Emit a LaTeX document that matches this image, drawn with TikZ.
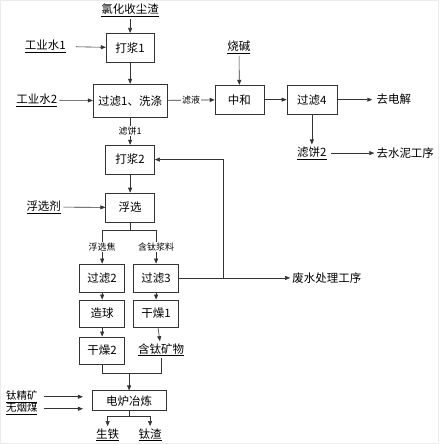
\documentclass[tikz,border=0pt]{standalone}
\usepackage{fontspec}
\setmainfont{Noto Sans CJK SC}
\usetikzlibrary{arrows.meta}
% underline close under the text
\newcommand\ulabel[1]{\underline{\raisebox{0pt}[\height][1pt]{#1}}}
\begin{document}
\begin{tikzpicture}[
    x=1pt, y=-1pt,
    every path/.style={draw=black!80, line width=0.6pt},
    box/.style={rectangle, draw, minimum width=49pt, minimum height=29pt, inner sep=0pt, align=center, font=\fontsize{11.5}{12}\selectfont},
    widebox/.style={box, minimum width=74pt},
    lbl/.style={inner sep=2pt, font=\fontsize{11.5}{12}\selectfont},
    tag/.style={inner sep=1pt, fill=white, font=\fontsize{9}{10}\selectfont},
    arrow/.style={-{Triangle[length=5pt,width=4pt]}}
]
\path[use as bounding box, draw=black!8] (0,0) rectangle (439,444);

% Boxes
\node[box, minimum width=48pt] (jiang1) at (130,47.5) {打浆1};
\node[widebox, minimum height=33pt] (filt1) at (130,100.5) {过滤1、洗涤};
\node[box] (zhonghe) at (239.5,99.5) {中和};
\node[box, minimum width=50pt] (filt4) at (312,99.5) {过滤4};
\node[box] (jiang2) at (130,159.5) {打浆2};
\node[box] (flot) at (130,207.5) {浮选};
\node[box, minimum width=45pt, minimum height=28pt] (filt2) at (102,278) {过滤2};
\node[box, minimum width=45pt, minimum height=28pt] (filt3) at (156,278) {过滤3};
\node[box, minimum width=45pt, minimum height=27pt] (ball) at (102,313.5) {造球};
\node[box, minimum width=45pt, minimum height=27pt] (dry1) at (156,313.5) {干燥1};
\node[box, minimum width=45pt, minimum height=27pt] (dry2) at (102,350.5) {干燥2};
\node[widebox, minimum height=20pt] (furnace) at (129,401) {电炉冶炼};

% Inputs and outputs
\node[lbl] (dust) at (130,10) {\ulabel{氯化收尘渣}};
\node[lbl] (water1) at (45,46) {\ulabel{工业水1}};
\node[lbl] (water2) at (36.5,100) {\ulabel{工业水2}};
\node[lbl] (soda) at (239,47) {\ulabel{烧碱}};
\node[lbl] (elec) at (394,99) {去电解};
\node[lbl] (cake2) at (312,153) {\ulabel{滤饼2}};
\node[lbl] (cement) at (405.5,153) {去水泥工序};
\node[lbl] (agent) at (43.5,207) {\ulabel{浮选剂}};
\node[lbl] (waste) at (327,278) {废水处理工序};
\node[lbl] (timin) at (161,350) {\ulabel{含钛矿物}};
\node[lbl, font=\fontsize{10.5}{11}\selectfont] (ore) at (21.5,397) {\ulabel{钛精矿}};
\node[lbl, font=\fontsize{10.5}{11}\selectfont] (coal) at (21.5,409) {\ulabel{无烟煤}};
\node[lbl] (iron) at (107.5,435) {\ulabel{生铁}};
\node[lbl] (slag) at (150,435) {\ulabel{钛渣}};

% Junctions
\coordinate (split) at (130,230);
\coordinate (merge) at (129,373);
\coordinate (back) at (223,278);
\coordinate (out) at (129,417);

% Arrows
\draw[arrow] (dust) -- (jiang1);
\draw[arrow, shorten <=8pt] (water1) -- (jiang1);
\draw[arrow] (jiang1) -- (filt1);
\draw[arrow] (water2) -- (filt1);
\draw[arrow] (filt1) -- node[tag] {滤液} (zhonghe);
\draw[arrow] (soda) -- (zhonghe);
\draw[arrow] (zhonghe) -- (filt4);
\draw[arrow, shorten >=2pt] (filt4) -- (filt4.east -| elec.west);
\draw[arrow] (filt4) -- (cake2);
\draw[arrow, shorten <=2pt] (cake2) -- (cement);
\draw[arrow] (filt1) -- node[tag] {滤饼1} (jiang2);
\draw[arrow] (jiang2) -- (flot);
\draw[arrow] (agent) -- (flot);
\draw (flot) -- (split);
\draw[arrow] (split) -| node[tag, pos=0.75] {浮选焦} (filt2);
\draw[arrow] (split) -| node[tag, pos=0.75] {含钛浆料} (filt3);
\draw[arrow] (filt3) -- (waste);
\draw[arrow] (back) |- (jiang2);
\draw[arrow] (filt2) -- (ball);
\draw[arrow] (ball) -- (dry2);
\draw[arrow] (filt3) -- (dry1);
\draw[arrow] (dry1) -- (timin);
\draw (dry2) |- (merge);
\draw (timin) |- (merge);
\draw[arrow] (merge) -- (furnace);
\draw[arrow, shorten <=4pt, shorten >=9pt] (ore) -- (ore.east -| furnace.west);
\draw[arrow, shorten <=4pt, shorten >=9pt] (coal) -- (coal.east -| furnace.west);
\draw (furnace) -- (out);
\draw[arrow] (out) -| (iron);
\draw[arrow] (out) -| (slag);
\end{tikzpicture}
\end{document}
